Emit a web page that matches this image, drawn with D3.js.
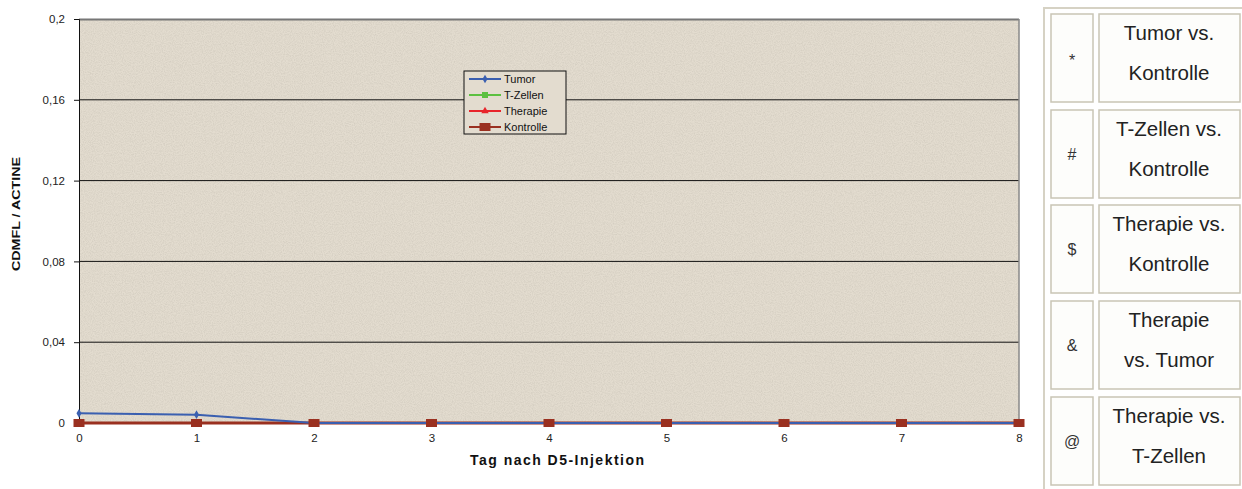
<!DOCTYPE html>
<html lang="de">
<head>
  <meta charset="UTF-8">
  <title>CDMFL / ACTIN</title>
  <style>
    * { margin: 0; }
    body { background: #fff; font-family: Arial, "Liberation Sans", sans-serif; }
    svg { display: block; }
    .tick text { font-size: 11.5px; fill: #222; }
  </style>
</head>
<body>
  <div id="chart"></div>
  <script src="https://cdnjs.cloudflare.com/ajax/libs/d3/7.8.5/d3.min.js"></script>
  <script>
    const days = [0, 1, 2, 3, 4, 5, 6, 7, 8];
    const tumor = [0.0048, 0.0041, 0, 0, 0, 0, 0, 0, 0];
    const tZellen = [0, 0, 0, 0, 0, 0, 0, 0, 0];
    const therapie = [0, 0, 0, 0, 0, 0, 0, 0, 0];
    const kontrolle = [0, 0, 0, 0, 0, 0, 0, 0, 0];
    const yTicks = [0, 0.04, 0.08, 0.12, 0.16, 0.2];
    const symbols = ['*', '#', '$', '&', '@'];
    const comparisons = [
      ['Tumor vs.', 'Kontrolle'],
      ['T-Zellen vs.', 'Kontrolle'],
      ['Therapie vs.', 'Kontrolle'],
      ['Therapie', 'vs. Tumor'],
      ['Therapie vs.', 'T-Zellen']
    ];

    const series = [
      { name: 'Tumor', values: tumor, color: '#3a5fb0', marker: 'diamond' },
      { name: 'T-Zellen', values: tZellen, color: '#5cc040', marker: 'square' },
      { name: 'Therapie', values: therapie, color: '#e8242a', marker: 'triangle' },
      { name: 'Kontrolle', values: kontrolle, color: '#9a3020', marker: 'bigsquare' }
    ];

    const W = 1242, H = 489;
    const m = { left: 79, right: 223, top: 19, bottom: 66 };
    const pw = W - m.left - m.right, ph = H - m.top - m.bottom;

    const svg = d3.select('#chart').append('svg')
      .attr('width', W).attr('height', H);

    // paper-like texture
    const defs = svg.append('defs');
    const f = defs.append('filter').attr('id', 'grain')
      .attr('x', 0).attr('y', 0).attr('width', '100%').attr('height', '100%');
    f.append('feTurbulence').attr('type', 'fractalNoise')
      .attr('baseFrequency', 0.9).attr('numOctaves', 2).attr('seed', 3).attr('result', 'n');
    f.append('feColorMatrix').attr('in', 'n').attr('type', 'matrix')
      .attr('values', '0 0 0 0 0.45  0 0 0 0 0.42  0 0 0 0 0.36  0 0 0 -1.6 1.05')
      .attr('result', 'dots');
    f.append('feComposite').attr('in', 'dots').attr('in2', 'SourceGraphic').attr('operator', 'in');

    const x = d3.scaleLinear().domain([0, 8]).range([0, pw]);
    const y = d3.scaleLinear().domain([0, 0.2]).range([ph, 0]);
    const fmt = d => String(+d.toFixed(2)).replace('.', ',');

    const g = svg.append('g').attr('transform', `translate(${m.left},${m.top})`);

    g.append('rect').attr('width', pw).attr('height', ph).attr('fill', '#e3dccf');
    g.append('rect').attr('width', pw).attr('height', ph).attr('fill', '#e3dccf')
      .attr('filter', 'url(#grain)').attr('opacity', 0.35);

    // gridlines
    g.append('g').selectAll('line').data(yTicks.filter(d => d > 0 && d < 0.2)).join('line')
      .attr('x1', 0).attr('x2', pw)
      .attr('y1', d => y(d)).attr('y2', d => y(d))
      .attr('stroke', '#111').attr('stroke-width', 1);

    // frame top/right
    g.append('line').attr('x1', 0).attr('x2', pw).attr('y1', 0.5).attr('y2', 0.5)
      .attr('stroke', '#777').attr('stroke-width', 2);
    g.append('line').attr('x1', pw).attr('x2', pw).attr('y1', 0).attr('y2', ph)
      .attr('stroke', '#888').attr('stroke-width', 1.5);

    const yAxis = g.append('g')
      .call(d3.axisLeft(y).tickValues(yTicks).tickFormat(fmt).tickSize(5).tickPadding(9));
    yAxis.select('.domain').attr('stroke', '#111');
    yAxis.selectAll('.tick line').attr('stroke', '#111');

    const xAxis = g.append('g').attr('transform', `translate(0,${ph})`)
      .call(d3.axisBottom(x).tickValues(days).tickFormat(d3.format('d')).tickSize(0).tickPadding(11));
    xAxis.select('.domain').attr('stroke', '#111');

    // lines
    const line = d3.line().x((d, i) => x(days[i])).y(d => y(d));
    const drawOrder = [series[1], series[2], series[3], series[0]];
    drawOrder.forEach(s => {
      g.append('path').datum(s.values)
        .attr('fill', 'none').attr('stroke', s.color).attr('stroke-width', s.marker === 'bigsquare' ? 3 : 2)
        .attr('d', line);
    });

    function marker(sel, type, color) {
      if (type === 'diamond') {
        sel.append('path').attr('d', d3.symbol(d3.symbolDiamond, 22)()).attr('fill', color);
      } else if (type === 'square') {
        sel.append('rect').attr('x', -3).attr('y', -3).attr('width', 6).attr('height', 6).attr('fill', color);
      } else if (type === 'triangle') {
        sel.append('path').attr('d', d3.symbol(d3.symbolTriangle, 24)()).attr('fill', color);
      } else {
        sel.append('rect').attr('x', -5.5).attr('y', -4).attr('width', 11).attr('height', 8).attr('fill', color);
      }
    }

    drawOrder.forEach(s => {
      if (s.name === 'Tumor') return;
      g.append('g').selectAll('g').data(s.values).join('g')
        .attr('transform', (d, i) => `translate(${x(days[i])},${y(d)})`)
        .each(function () { marker(d3.select(this), s.marker, s.color); });
    });
    g.append('g').selectAll('g').data(tumor.slice(0, 2)).join('g')
      .attr('transform', (d, i) => `translate(${x(days[i])},${y(d)})`)
      .each(function () { marker(d3.select(this), 'diamond', series[0].color); });

    // axis titles
    svg.append('text').attr('x', m.left + pw / 2 + 8).attr('y', 465)
      .attr('text-anchor', 'middle').attr('font-size', 14).attr('font-weight', 'bold')
      .attr('textLength', 174).attr('lengthAdjust', 'spacing')
      .attr('fill', '#111').text('Tag nach D5-Injektion');
    svg.append('text')
      .attr('transform', 'translate(20,214) rotate(-90)')
      .attr('text-anchor', 'middle').attr('font-size', 11).attr('font-weight', 'bold')
      .attr('textLength', 114).attr('lengthAdjust', 'spacingAndGlyphs')
      .attr('fill', '#111').text('CDMFL / ACTINE');

    // legend
    const lg = svg.append('g').attr('transform', 'translate(464,71)');
    lg.append('rect').attr('width', 102).attr('height', 63)
      .attr('fill', '#e3dccf').attr('stroke', '#111');
    series.forEach((s, i) => {
      const row = lg.append('g').attr('transform', `translate(0,${8 + i * 16})`);
      row.append('line').attr('x1', 5).attr('x2', 37).attr('stroke', s.color).attr('stroke-width', 2);
      const mk = row.append('g').attr('transform', 'translate(21,0)');
      marker(mk, s.marker, s.color);
      row.append('text').attr('x', 40).attr('y', 4).attr('font-size', 11).attr('fill', '#111').text(s.name);
    });

    // comparison table
    const tb = svg.append('g');
    tb.append('rect').attr('x', 1044).attr('y', 8).attr('width', 210).attr('height', 490)
      .attr('fill', '#fff').attr('stroke', '#d6d2c4').attr('stroke-width', 2);
    const rowTop = [14, 110, 205, 301, 397];
    const rowH = 88;
    symbols.forEach((s, i) => {
      const r = tb.append('g').attr('transform', `translate(0,${rowTop[i]})`);
      r.append('rect').attr('x', 1051).attr('y', 0).attr('width', 42).attr('height', rowH)
        .attr('fill', '#fdfdfb').attr('stroke', '#c9c5b5').attr('stroke-width', 1.5);
      r.append('rect').attr('x', 1099).attr('y', 0).attr('width', 141).attr('height', rowH)
        .attr('fill', '#fdfdfb').attr('stroke', '#c9c5b5').attr('stroke-width', 1.5);
      r.append('text').attr('x', 1072).attr('y', rowH / 2 + (s === '*' ? 8 : 6))
        .attr('text-anchor', 'middle').attr('font-size', 16).attr('fill', '#333').text(s);
      comparisons[i].forEach((t, k) => {
        r.append('text').attr('x', 1169).attr('y', 26 + k * 40)
          .attr('text-anchor', 'middle').attr('font-size', 20.5).attr('fill', '#222').text(t);
      });
    });
  </script>
</body>
</html>
